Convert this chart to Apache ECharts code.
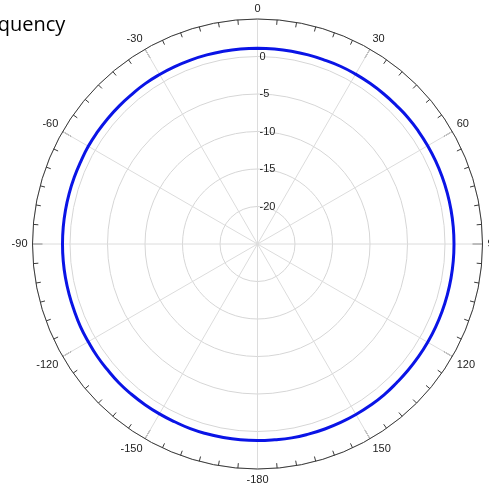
<!DOCTYPE html>
<html lang="en">
<head>
    <meta charset="UTF-8">
    <title>Polar pattern</title>
    <style>
        html, body {
            margin: 0;
            padding: 0;
            background: #ffffff;
        }

        #chart {
            width: 489px;
            height: 491px;
        }
    </style>
</head>
<body>
<div id="chart"></div>
<script src="https://cdn.jsdelivr.net/npm/echarts@6/dist/echarts.min.js"></script>
<script>
    // angle in degrees (0 at top, clockwise), gain in dB, read every 5 deg
    var angles = [0, 5, 10, 15, 20, 25, 30, 35, 40, 45, 50, 55, 60, 65, 70, 75, 80, 85,
        90, 95, 100, 105, 110, 115, 120, 125, 130, 135, 140, 145, 150, 155, 160, 165, 170, 175,
        180, 185, 190, 195, 200, 205, 210, 215, 220, 225, 230, 235, 240, 245, 250, 255, 260, 265,
        270, 275, 280, 285, 290, 295, 300, 305, 310, 315, 320, 325, 330, 335, 340, 345, 350, 355, 360];
    var gain = [1.1, 1.1, 1.1, 1.1, 1.1, 1.15, 1.15, 1.15, 1.15, 1.15, 1.2, 1.2, 1.2, 1.2, 1.2, 1.2, 1.2, 1.2,
        1.2, 1.2, 1.2, 1.2, 1.2, 1.2, 1.2, 1.2, 1.2, 1.2, 1.25, 1.25, 1.25, 1.25, 1.25, 1.25, 1.25, 1.2,
        1.2, 1.2, 1.2, 1.2, 1.2, 1.15, 1.15, 1.15, 1.15, 1.15, 1.1, 1.1, 1.05, 1.05, 1.0, 1.0, 1.0, 1.0,
        1.0, 1.0, 1.0, 1.0, 1.0, 1.0, 1.05, 1.05, 1.05, 1.05, 1.05, 1.1, 1.1, 1.1, 1.1, 1.1, 1.1, 1.1, 1.1];
    var radiusTicks = [-20, -15, -10, -5, 0];

    var lineData = [];
    for (var i = 0; i < angles.length; i++) {
        lineData.push([gain[i], angles[i]]);
    }

    var chart = echarts.init(document.getElementById('chart'));
    var option = {
        animation: false,
        graphic: [{
            type: 'text',
            left: -32,
            top: 15,
            style: {
                text: 'Frequency',
                font: '20px "Open Sans"',
                fill: '#000'
            }
        }],
        polar: {
            center: [257.5, 244],
            radius: 225
        },
        angleAxis: {
            type: 'value',
            min: 0,
            max: 360,
            interval: 30,
            startAngle: 90,
            clockwise: true,
            axisLine: {lineStyle: {color: '#3a3a3a', width: 1}},
            axisTick: {inside: true, length: 10, lineStyle: {color: '#3a3a3a'}},
            minorTick: {show: true, splitNumber: 6, length: 5, lineStyle: {color: '#3a3a3a'}},
            axisLabel: {
                margin: 5,
                color: '#222',
                fontSize: 11,
                fontFamily: 'Liberation Sans',
                formatter: function (v) {
                    if (v === 360) return '';
                    if (v === 180) return '-180';
                    return v > 180 ? String(v - 360) : String(v);
                }
            },
            splitLine: {show: true, lineStyle: {color: '#dcdcdc', width: 1}}
        },
        radiusAxis: {
            type: 'value',
            min: -25,
            max: 5,
            interval: 5,
            axisLine: {show: false},
            axisTick: {show: false},
            axisLabel: {
                color: '#222',
                fontSize: 11,
                fontFamily: 'Liberation Sans',
                align: 'left',
                margin: -2,
                formatter: function (v) {
                    return radiusTicks.indexOf(v) >= 0 ? String(v) : '';
                }
            },
            splitLine: {show: true, lineStyle: {color: '#d6d6d6', width: 1}}
        },
        series: [{
            type: 'line',
            coordinateSystem: 'polar',
            data: lineData,
            smooth: 0.5,
            symbol: 'none',
            lineStyle: {color: '#0a14e6', width: 3}
        }]
    };
    chart.setOption(option);
</script>
</body>
</html>
